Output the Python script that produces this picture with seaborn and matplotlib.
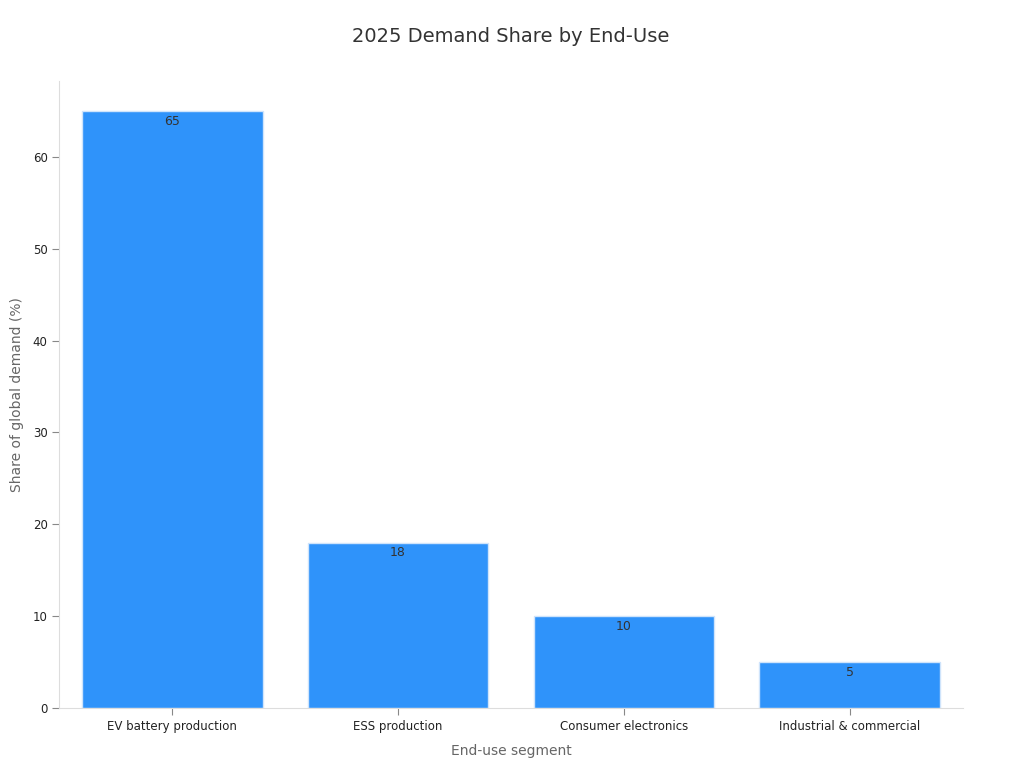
import numpy as np
import pandas as pd
import matplotlib.pyplot as plt
import seaborn as sns

segments = ["EV battery production", "ESS production", "Consumer electronics", "Industrial & commercial"]
shares = [65, 18, 10, 5]

df = pd.DataFrame({"segment": segments, "share": shares})

sns.set_style("white")
fig, ax = plt.subplots(figsize=(10.24, 7.68), dpi=100)
sns.barplot(data=df, x="segment", y="share", color="#2f93fa", saturation=1,
            edgecolor="#cfe4fb", linewidth=1, width=0.8, ax=ax)
for i, v in enumerate(shares):
    ax.text(i, v - 0.4, str(v), ha="center", va="top", fontsize=9, color="#333333")

ax.set_title("2025 Demand Share by End-Use", fontsize=14, color="#333333", pad=28)
ax.set_xlabel("End-use segment", fontsize=10, color="#666666", labelpad=8)
ax.set_ylabel("Share of global demand (%)", fontsize=10, color="#666666", labelpad=6)
ax.tick_params(axis="both", labelsize=8.5, colors="#222222", length=5, bottom=True, left=True)
ax.tick_params(axis="both", color="#888888")
ax.set_ylim(0, 68.3)
ax.set_xlim(-0.5, 3.5)
for s in ["top", "right"]:
    ax.spines[s].set_visible(False)
for s in ["left", "bottom"]:
    ax.spines[s].set_color("#dddddd")
plt.subplots_adjust(left=0.058, right=0.94, top=0.895, bottom=0.078)
plt.savefig("out.png")
